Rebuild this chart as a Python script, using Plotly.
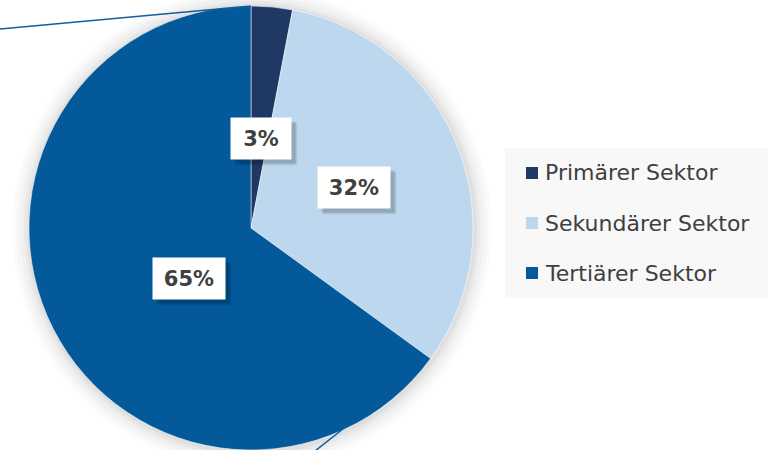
import math
import plotly.graph_objects as go

labels = ["Primärer Sektor", "Sekundärer Sektor", "Tertiärer Sektor"]
values = [3, 32, 65]
colors = ["#203864", "#bdd7ee", "#03599a"]

W, H = 768, 450
cx, cy, R = 251, 228, 222  # pixel geometry of the pie


def px(x):
    return x / W


def py(y):
    return 1 - y / H


fig = go.Figure()
fig.add_trace(go.Pie(
    labels=labels, values=values, sort=False, direction="clockwise", rotation=0,
    marker=dict(colors=colors, line=dict(color="rgba(255,255,255,0.5)", width=1)),
    textinfo="none", hoverinfo="label+percent", showlegend=False,
    domain=dict(x=[px(cx - R), px(cx + R)], y=[py(cy + R), py(cy - R)]),
))

shapes = []
# soft glow/shadow around the pie
for d, a in [(18, 0.015), (14, 0.02), (10, 0.025), (6, 0.03), (3, 0.035)]:
    shapes.append(dict(type="circle", xref="paper", yref="paper", layer="below",
                       x0=px(cx - R - d + 1), x1=px(cx + R + d + 1),
                       y0=py(cy + R + d + 1), y1=py(cy - R - d + 1),
                       fillcolor=f"rgba(0,0,0,{a})", line=dict(width=0)))
# decorative leader lines
shapes.append(dict(type="line", xref="paper", yref="paper", x0=0, y0=py(29), x1=px(251), y1=py(6),
                   line=dict(color="#0f5fa0", width=1.5)))
shapes.append(dict(type="line", xref="paper", yref="paper", x0=px(315), y0=py(451), x1=px(348), y1=py(425),
                   line=dict(color="#0f5fa0", width=1.5)))
# legend box
shapes.append(dict(type="rect", xref="paper", yref="paper", layer="below",
                   x0=px(505), x1=1, y0=py(298), y1=py(148),
                   fillcolor="#f8f8f8", line=dict(width=0)))

annotations = []
total = sum(values)
cum = 0
for lab, v in zip(labels, values):
    mid = (cum + v / 2) / total * 2 * math.pi
    cum += v
    lx = cx + 0.5 * R * math.sin(mid)
    ly = cy - 0.5 * R * math.cos(mid)
    txt = f"{round(v / total * 100)}%"
    w = 58 if len(txt) == 2 else 70
    # soft shadow
    for s, a in [(6, 0.06), (5, 0.08), (4, 0.1)]:
        annotations.append(dict(x=px(lx), y=py(ly), xref="paper", yref="paper", text="",
                                showarrow=False, width=w, height=39, xshift=s, yshift=-s,
                                bgcolor=f"rgba(0,0,0,{a})"))
    annotations.append(dict(x=px(lx), y=py(ly), xref="paper", yref="paper", text=f"<b>{txt}</b>",
                            showarrow=False, width=w, height=39, bgcolor="white",
                            font=dict(family="DejaVu Sans", size=21, color="#404040")))

# manual legend
for i, (lab, col) in enumerate(zip(labels, colors)):
    yc = 173 + 50 * i
    shapes.append(dict(type="rect", xref="paper", yref="paper",
                       x0=px(526), x1=px(538), y0=py(yc + 6), y1=py(yc - 6),
                       fillcolor=col, line=dict(width=0)))
    annotations.append(dict(x=px(543), y=py(yc), xref="paper", yref="paper", text=lab,
                            showarrow=False, xanchor="left", yanchor="middle",
                            font=dict(family="DejaVu Sans", size=22, color="#404040")))

fig.update_layout(width=W, height=H, margin=dict(l=0, r=0, t=0, b=0),
                  paper_bgcolor="white", plot_bgcolor="white",
                  shapes=shapes, annotations=annotations)
fig.write_html("out.html", config={"displayModeBar": False},
               post_script="document.body.style.margin='0px';")
